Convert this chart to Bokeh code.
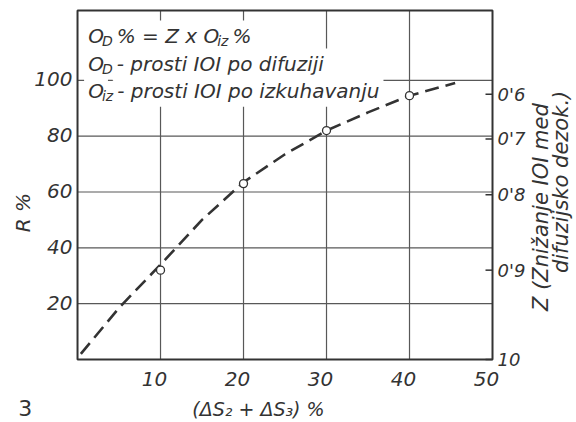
from bokeh.plotting import figure
from bokeh.models import Range1d, Label, LabelSet, ColumnDataSource
from bokeh.core.properties import value
from bokeh.embed import file_html
from bokeh.resources import INLINE

# Bottom axis: (ΔS2 + ΔS3) %
x_ticks = [10, 20, 30, 40, 50]
x_tick_labels = ["10", "20", "30", "40", "50"]
# Left axis: R %
r_ticks = [20, 40, 60, 80, 100]
r_tick_labels = ["20", "40", "60", "80", "100"]
# Right axis: Z values and the R level each one belongs to
z_labels = ["0'6", "0'7", "0'8", "0'9", "10"]
z_at_r = [95, 79, 59, 32, 0]

# Measured points
pts_x = [10, 20, 30, 40]
pts_r = [32, 63, 82, 94.5]

# Dashed curve through the measurements
curve_x = [0.4, 5, 10, 15, 20, 25, 30, 35, 40, 45.5]
curve_r = [2, 18.5, 34, 50, 63.5, 73.5, 82, 88.5, 94.5, 99]

# Extent of the chart box in data units
X_MAX = 50
R_MAX = 125

INK = "#333333"
GRID = "#585858"
FONT = "DejaVu Sans"

# The whole canvas is the drawing area; the chart box sits inside it with
# room on every side for tick labels and titles.
p = figure(width=576, height=422, min_border=0,
           x_range=Range1d(-9.28, 60.12), y_range=Range1d(-22.56, 128.58),
           x_axis_location=None, y_axis_location=None,
           output_backend="svg", toolbar_location=None,
           background_fill_color="white", border_fill_color="white")
p.outline_line_color = None
p.grid.visible = False

# Grid lines at the tick values
gx = x_ticks[:-1]
p.segment(x0=gx, y0=[0] * len(gx), x1=gx, y1=[R_MAX] * len(gx),
          line_color=GRID, line_width=1.2)
p.segment(x0=[0] * len(r_ticks), y0=r_ticks, x1=[X_MAX] * len(r_ticks), y1=r_ticks,
          line_color=GRID, line_width=1.2)

# Chart box
p.quad(left=[0], right=[X_MAX], bottom=[0], top=[R_MAX],
       fill_color=None, line_color=INK, line_width=2)

# Short inward ticks of the Z scale on the right edge
p.ray(x=[X_MAX] * len(z_at_r), y=z_at_r, length=7, length_units="screen",
      angle=180, angle_units="deg", line_color=INK, line_width=1.5)

# Curve and points
p.line(curve_x, curve_r, line_dash="14 7", line_width=2.6, line_color=INK)
p.scatter(pts_x, pts_r, size=8, marker="circle", fill_color="white",
          line_color=INK, line_width=1.3)

# Text styles: label sets take specs, single labels take plain values
set_style = dict(text_font=value(FONT), text_font_style="italic", text_color=INK)
lab_style = dict(text_font=FONT, text_font_style="italic", text_color=INK)

# Tick labels
left_src = ColumnDataSource(dict(x=[0] * len(r_ticks), y=r_ticks, t=r_tick_labels))
p.add_layout(LabelSet(source=left_src, x="x", y="y", text="t", x_offset=-5, y_offset=1,
                      text_align="right", text_baseline="middle",
                      text_font_size="20px", **set_style))
bottom_src = ColumnDataSource(dict(x=x_ticks, y=[0] * len(x_ticks), t=x_tick_labels))
p.add_layout(LabelSet(source=bottom_src, x="x", y="y", text="t", x_offset=-6, y_offset=-12,
                      text_align="center", text_baseline="top",
                      text_font_size="20px", **set_style))
right_src = ColumnDataSource(dict(x=[X_MAX] * len(z_at_r), y=z_at_r, t=z_labels))
p.add_layout(LabelSet(source=right_src, x="x", y="y", text="t", x_offset=5, y_offset=0,
                      text_align="left", text_baseline="middle",
                      text_font_size="18px", **set_style))

# Axis titles
p.add_layout(Label(x=-6.6, y=52.6, text="R %", angle=90, angle_units="deg",
                   text_align="center", text_baseline="middle",
                   text_font_size="20px", **lab_style))
p.add_layout(Label(x=21.8, y=-17.6, text="(ΔS₂ + ΔS₃) %",
                   text_align="center", text_baseline="alphabetic",
                   text_font_size="19px", **lab_style))
p.add_layout(Label(x=55.8, y=54.6, text="Z (Znižanje IOI med", angle=90, angle_units="deg",
                   text_align="center", text_baseline="middle",
                   text_font_size="21px", **lab_style))
p.add_layout(Label(x=58.2, y=64.8, text="difuzijsko  dezok.)", angle=90, angle_units="deg",
                   text_align="center", text_baseline="middle",
                   text_font_size="21px", **lab_style))
p.add_layout(Label(x=-6.3, y=-17.4, text="3",
                   text_align="center", text_baseline="alphabetic",
                   text_font=FONT, text_font_size="22px", text_color=INK))

# Explanatory text in the top-left corner, with subscripts
WIDTHS = {' ': .318, '%': .950, '=': .838, 'Z': .685, 'x': .592, 'O': .787,
          'D': .770, 'i': .278, 'z': .525, '-': .361, 'p': .635, 'r': .411,
          'o': .612, 's': .521, 't': .392, 'I': .295, 'd': .635, 'f': .352,
          'u': .634, 'j': .278, 'k': .579, 'h': .634, 'a': .613, 'v': .592,
          'n': .634}


def text_width(s, size):
    return sum(WIDTHS.get(c, .6) for c in s) * size


def add_line(pieces, x, y, size=20, sub_size=14):
    offset = 0.0
    main, subs = [], []
    for s, is_sub in pieces:
        fs = sub_size if is_sub else size
        if is_sub:
            offset += 2
        kw = dict(x=x, y=y, x_offset=offset, y_offset=-5 if is_sub else 0,
                  text=s, text_align="left", text_baseline="alphabetic",
                  text_font_size=f"{fs}px", **lab_style)
        if is_sub:
            subs.append(Label(**kw))
        else:
            main.append(Label(background_fill_color="white", padding=4, **kw))
        offset += text_width(s, fs)
    for lab in main + subs:
        p.add_layout(lab)


add_line([("O", 0), ("D", 1), ("% = Z x O", 0), ("iz", 1), ("%", 0)], 0.8, 115.7)
add_line([("O", 0), ("D", 1), (" - prosti IOI po difuziji", 0)], 0.8, 105.7)
add_line([("O", 0), ("iz", 1), ("- prosti IOI po izkuhavanju", 0)], 0.8, 96.3)

open("out.html", "w").write(file_html(p, INLINE))
